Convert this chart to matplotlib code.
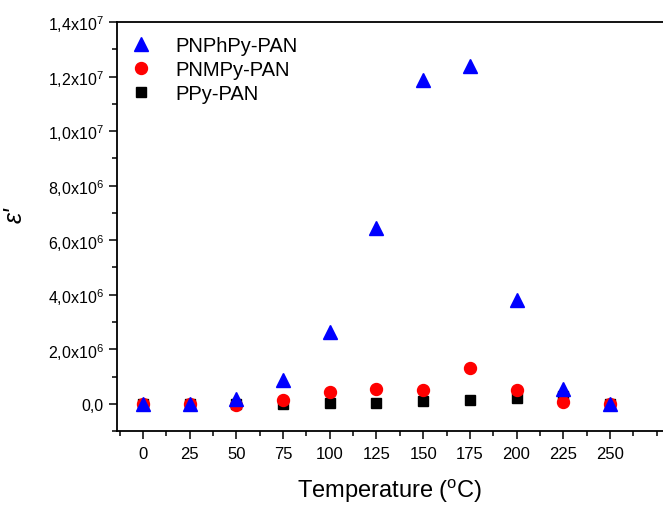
import numpy as np
import matplotlib
matplotlib.use("Agg")
import matplotlib.pyplot as plt
from matplotlib.ticker import MultipleLocator

plt.rcParams["font.family"] = ["Liberation Sans", "DejaVu Sans"]
plt.rcParams["mathtext.fontset"] = "custom"
plt.rcParams["mathtext.rm"] = "Liberation Sans"
plt.rcParams["mathtext.it"] = "Liberation Sans:italic"

temps = [0, 25, 50, 75, 100, 125, 150, 175, 200, 225, 250]
pnphpy = [0.0, 0.0, 0.016e7, 0.088e7, 0.265e7, 0.644e7, 1.187e7, 1.238e7, 0.379e7, 0.056e7, 0.0]
pnmpy = [0.0, 0.0, -0.003e7, 0.015e7, 0.043e7, 0.055e7, 0.051e7, 0.132e7, 0.050e7, 0.007e7, 0.0]
ppy = [0.0, 0.0, 0.0, 0.0, 0.004e7, 0.004e7, 0.012e7, 0.015e7, 0.020e7, 0.028e7, 0.0]

ytick_vals = [0, 2e6, 4e6, 6e6, 8e6, 1.0e7, 1.2e7, 1.4e7]
ytick_labels = [r"0,0", r"$2{,}0\mathrm{x}10^{6}$", r"$4{,}0\mathrm{x}10^{6}$",
                r"$6{,}0\mathrm{x}10^{6}$", r"$8{,}0\mathrm{x}10^{6}$",
                r"$1{,}0\mathrm{x}10^{7}$", r"$1{,}2\mathrm{x}10^{7}$",
                r"$1{,}4\mathrm{x}10^{7}$"]

fig = plt.figure(figsize=(6.63, 5.06), dpi=100)
ax = fig.add_axes([0.1765, 0.146, 0.8235, 0.8085])

ax.plot(temps, ppy, "s", color="black", ms=6.5, label="PPy-PAN", zorder=3)
ax.plot(temps, pnmpy, "o", color="red", ms=8.6, label="PNMPy-PAN", zorder=4)
ax.plot(temps, pnphpy, "^", color="blue", ms=9.5, label="PNPhPy-PAN", zorder=5)

ax.set_xlim(-13.9, 278.4)
ax.set_ylim(-1.0e6, 1.4e7)
ax.set_xticks(temps)
ax.xaxis.set_minor_locator(MultipleLocator(12.5))
ax.set_yticks(ytick_vals)
ax.set_yticklabels(ytick_labels)
ax.yaxis.set_minor_locator(MultipleLocator(1e6))
ax.tick_params(which="major", direction="out", length=6, width=1.1, labelsize=11.5)
ax.tick_params(which="minor", direction="out", length=3.5, width=1.1)
ax.tick_params(axis="x", pad=5, labelsize=12)

ax.spines["right"].set_visible(False)
for s in ["left", "bottom", "top"]:
    ax.spines[s].set_linewidth(1.3)

ax.set_xlabel(r"Temperature ($^{\mathrm{o}}$C)", fontsize=17, labelpad=11)
ax.set_ylabel("\u03b5'", fontsize=18, style="italic")
ax.yaxis.set_label_coords(-0.165, 0.53)

handles, labels = ax.get_legend_handles_labels()
ax.legend(handles[::-1], labels[::-1], loc="upper left", frameon=False,
          fontsize=14.5, handlelength=1.0, handletextpad=1.2,
          labelspacing=0.25, borderaxespad=0.3, bbox_to_anchor=(0.0, 1.0))

fig.savefig("out.png", dpi=100)
